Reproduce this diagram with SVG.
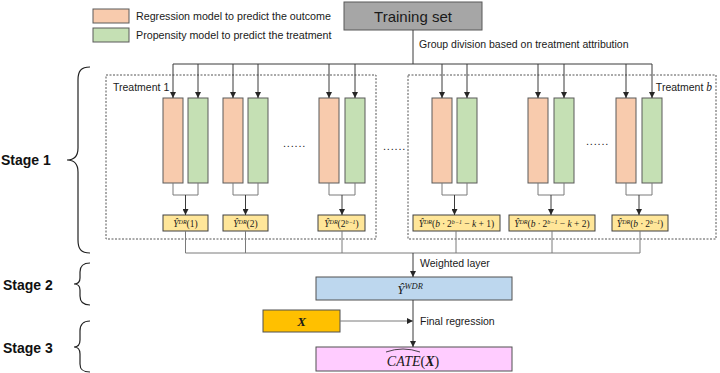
<svg xmlns="http://www.w3.org/2000/svg" width="720" height="373" viewBox="0 0 720 373">
  <defs>
    <marker id="arr" viewBox="0 0 8 8" refX="8" refY="4" markerWidth="6" markerHeight="6" markerUnits="userSpaceOnUse" orient="auto">
      <path d="M0,0 L8,4 L0,8 z" fill="#262626"/>
    </marker>
    <style>
      .sans { font-family: "Liberation Sans", Arial, sans-serif; fill: #1a1a1a; }
      .math { font-family: "Liberation Serif", "DejaVu Serif", serif; font-style: italic; fill: #1a1a1a; }
      .reg { fill: #F8CBAD; stroke: #5a5a5a; stroke-width: 1; }
      .prop { fill: #C5E0B4; stroke: #5a5a5a; stroke-width: 1; }
      .est { fill: #FFE699; stroke: #404040; stroke-width: 1; }
      .grp { fill: none; stroke: #555; stroke-width: 1; stroke-dasharray: 2 1.5; }
      .ln { fill: none; stroke: #3a3a3a; stroke-width: 1; }
      .lnl { fill: none; stroke: #7a7a7a; stroke-width: 1; }
      .arrow { fill: none; stroke: #3a3a3a; stroke-width: 1; marker-end: url(#arr); }
      .brace { fill: none; stroke: #222; stroke-width: 1.2; }
      .stage { font-family: "Liberation Sans", Arial, sans-serif; font-weight: bold; font-size: 14px; fill: #111; }
      .dots { font-family: "Liberation Sans", Arial, sans-serif; font-size: 11px; fill: #222; letter-spacing: 0.8px; }
    </style>
  </defs>
  <rect width="720" height="373" fill="#fff"/>

  <!-- legend -->
  <g id="legend">
    <rect class="reg" x="93" y="9" width="36" height="14"/>
    <rect class="prop" x="93" y="28" width="36" height="14"/>
    <text class="sans" x="136" y="20" font-size="10.7">Regression model to predict the outcome</text>
    <text class="sans" x="136" y="39" font-size="10.7">Propensity model to predict the treatment</text>
  </g>

  <!-- stage braces and labels -->
  <g id="stages">
    <path class="brace" d="M90,67 C81,67 78,71 78,80 L78,148 C78,156 75,160 67,160 C75,160 78,164 78,172 L78,240 C78,249 81,253 90,253"/>
    <path class="brace" d="M90,263 C83,263 80,266 80,272 L80,278 C80,282 78,284 74,284 C78,284 80,286 80,290 L80,296 C80,302 83,305 90,305"/>
    <path class="brace" d="M90,321 C83,321 80,324 80,331 L80,340 C80,344 78,347 74,347 C78,347 80,350 80,354 L80,364 C80,370 83,372 90,372"/>
    <text class="stage" x="1" y="165">Stage 1</text>
    <text class="stage" x="3" y="290">Stage 2</text>
    <text class="stage" x="3" y="353">Stage 3</text>
  </g>

  <!-- training set -->
  <g id="training">
    <rect x="344" y="2" width="138" height="28" fill="#A6A6A6" stroke="#595959" stroke-width="1"/>
    <text class="sans" x="413" y="22" font-size="15" text-anchor="middle" fill="#262626">Training set</text>
  </g>

  <!-- treatment groups -->
  <g id="group-treatment-1">
    <rect class="grp" x="106" y="75" width="270" height="164"/>
    <text class="sans" x="113" y="91" font-size="10.5">Treatment 1</text>
  </g>
  <g id="group-treatment-b">
    <rect class="grp" x="408" y="75" width="308" height="164"/>
    <text class="sans" x="712" y="91" font-size="10.5" text-anchor="end">Treatment <tspan font-family="Liberation Serif, serif" font-style="italic" font-size="11.5">b</tspan></text>
  </g>

  <!-- model pairs -->
  <g id="models-1-1"><rect class="reg" x="163" y="98" width="20" height="85"/><rect class="prop" x="188" y="98" width="20" height="85"/></g>
  <g id="models-1-2"><rect class="reg" x="223" y="98" width="20" height="85"/><rect class="prop" x="248" y="98" width="20" height="85"/></g>
  <g id="models-1-k"><rect class="reg" x="319" y="98" width="20" height="85"/><rect class="prop" x="345" y="98" width="20" height="85"/></g>
  <g id="models-b-1"><rect class="reg" x="432" y="98" width="20" height="85"/><rect class="prop" x="457" y="98" width="20" height="85"/></g>
  <g id="models-b-2"><rect class="reg" x="528" y="98" width="20" height="85"/><rect class="prop" x="554" y="98" width="20" height="85"/></g>
  <g id="models-b-k"><rect class="reg" x="616" y="98" width="20" height="85"/><rect class="prop" x="642" y="98" width="20" height="85"/></g>

  <!-- ellipses -->
  <g id="ellipses">
    <text class="dots" x="283" y="147">......</text>
    <text class="dots" x="383" y="150">......</text>
    <text class="dots" x="586" y="145">......</text>
  </g>

  <!-- doubly robust estimates -->
  <g id="est-1-1">
    <rect class="est" x="163" y="215" width="45" height="16"/>
    <text class="math" x="185.5" y="226.8" font-size="9.5" text-anchor="middle">Ŷ<tspan font-size="6" dy="-3">DR</tspan><tspan dy="3" font-style="normal">(1)</tspan></text>
  </g>
  <g id="est-1-2">
    <rect class="est" x="223" y="215" width="45" height="16"/>
    <text class="math" x="245.5" y="226.8" font-size="9.5" text-anchor="middle">Ŷ<tspan font-size="6" dy="-3">DR</tspan><tspan dy="3" font-style="normal">(2)</tspan></text>
  </g>
  <g id="est-1-k">
    <rect class="est" x="318" y="215" width="47" height="16"/>
    <text class="math" x="341.5" y="226.8" font-size="9.5" text-anchor="middle">Ŷ<tspan font-size="6" dy="-3">DR</tspan><tspan dy="3" font-style="normal">(2</tspan><tspan font-size="6" dy="-3">b−1</tspan><tspan dy="3" font-style="normal">)</tspan></text>
  </g>
  <g id="est-b-1">
    <rect class="est" x="413" y="215" width="87" height="16"/>
    <text class="math" x="456.5" y="226.8" font-size="9.5" text-anchor="middle">Ŷ<tspan font-size="6" dy="-3">DR</tspan><tspan dy="3" font-style="normal">(</tspan>b · <tspan font-style="normal">2</tspan><tspan font-size="6" dy="-3">b−1</tspan><tspan dy="3" font-style="normal"> − </tspan>k<tspan font-style="normal"> + 1)</tspan></text>
  </g>
  <g id="est-b-2">
    <rect class="est" x="509" y="215" width="86" height="16"/>
    <text class="math" x="552" y="226.8" font-size="9.5" text-anchor="middle">Ŷ<tspan font-size="6" dy="-3">DR</tspan><tspan dy="3" font-style="normal">(</tspan>b · <tspan font-style="normal">2</tspan><tspan font-size="6" dy="-3">b−1</tspan><tspan dy="3" font-style="normal"> − </tspan>k<tspan font-style="normal"> + 2)</tspan></text>
  </g>
  <g id="est-b-k">
    <rect class="est" x="612" y="215" width="56" height="16"/>
    <text class="math" x="640" y="226.8" font-size="9.5" text-anchor="middle">Ŷ<tspan font-size="6" dy="-3">DR</tspan><tspan dy="3" font-style="normal">(</tspan>b · <tspan font-style="normal">2</tspan><tspan font-size="6" dy="-3">b−1</tspan><tspan dy="3" font-style="normal">)</tspan></text>
  </g>

  <!-- weighted estimate -->
  <g id="weighted">
    <rect x="316" y="277" width="196" height="23" fill="#BDD7EE" stroke="#505050" stroke-width="1"/>
    <text class="math" x="410" y="294" font-size="13" text-anchor="middle">Ŷ<tspan font-size="8.5" dy="-5">WDR</tspan></text>
  </g>

  <!-- covariates -->
  <g id="covariates">
    <rect x="263" y="310" width="77" height="22" fill="#FFC000" stroke="#505050" stroke-width="1"/>
    <text class="math" x="301.5" y="326" font-size="13" font-weight="bold" text-anchor="middle">X</text>
  </g>

  <!-- CATE output -->
  <g id="cate">
    <rect x="316" y="347" width="196" height="24" fill="#FFCCFF" stroke="#505050" stroke-width="1"/>
    <path d="M386,352 Q403,346 420,352" fill="none" stroke="#1a1a1a" stroke-width="0.8"/>
    <text class="math" x="413" y="365.5" font-size="14" text-anchor="middle">CATE<tspan font-style="normal">(</tspan><tspan font-weight="bold">X</tspan><tspan font-style="normal">)</tspan></text>
  </g>

  <!-- connectors -->
  <g id="connectors">
    <!-- training set to groups -->
    <path class="ln" d="M413,30 V64 M173,64 H652"/>
    <line class="arrow" x1="173" y1="64" x2="173" y2="98"/>
    <line class="arrow" x1="198" y1="64" x2="198" y2="98"/>
    <line class="arrow" x1="233" y1="64" x2="233" y2="98"/>
    <line class="arrow" x1="258" y1="64" x2="258" y2="98"/>
    <line class="arrow" x1="329" y1="64" x2="329" y2="98"/>
    <line class="arrow" x1="355" y1="64" x2="355" y2="98"/>
    <line class="arrow" x1="442" y1="64" x2="442" y2="98"/>
    <line class="arrow" x1="467" y1="64" x2="467" y2="98"/>
    <line class="arrow" x1="538" y1="64" x2="538" y2="98"/>
    <line class="arrow" x1="564" y1="64" x2="564" y2="98"/>
    <line class="arrow" x1="626" y1="64" x2="626" y2="98"/>
    <line class="arrow" x1="652" y1="64" x2="652" y2="98"/>
    <!-- model pairs to estimates -->
    <path class="lnl" d="M173,183 V195 H198 V183 M233,183 V195 H258 V183 M329,183 V195 H355 V183 M442,183 V195 H467 V183 M538,183 V195 H564 V183 M626,183 V195 H652 V183"/>
    <line class="arrow" x1="185.5" y1="195" x2="185.5" y2="215"/>
    <line class="arrow" x1="245.5" y1="195" x2="245.5" y2="215"/>
    <line class="arrow" x1="342" y1="195" x2="342" y2="215"/>
    <line class="arrow" x1="454.5" y1="195" x2="454.5" y2="215"/>
    <line class="arrow" x1="551" y1="195" x2="551" y2="215"/>
    <line class="arrow" x1="639" y1="195" x2="639" y2="215"/>
    <!-- estimates to weighted layer -->
    <path class="lnl" d="M185.5,231 V253 M245.5,231 V253 M342,231 V253 M456,231 V253 M552,231 V253 M640,231 V253 M185.5,253 H640"/>
    <line class="arrow" x1="413" y1="253" x2="413" y2="277"/>
    <line class="arrow" x1="413" y1="300" x2="413" y2="347"/>
    <line class="arrow" x1="340" y1="321" x2="413" y2="321" style="stroke:#7a7a7a"/>
  </g>

  <!-- connector labels -->
  <g id="labels">
    <text class="sans" x="419" y="48" font-size="10.5">Group division based on treatment attribution</text>
    <text class="sans" x="420" y="267" font-size="10.5">Weighted layer</text>
    <text class="sans" x="420" y="325" font-size="10.5">Final regression</text>
  </g>
</svg>
